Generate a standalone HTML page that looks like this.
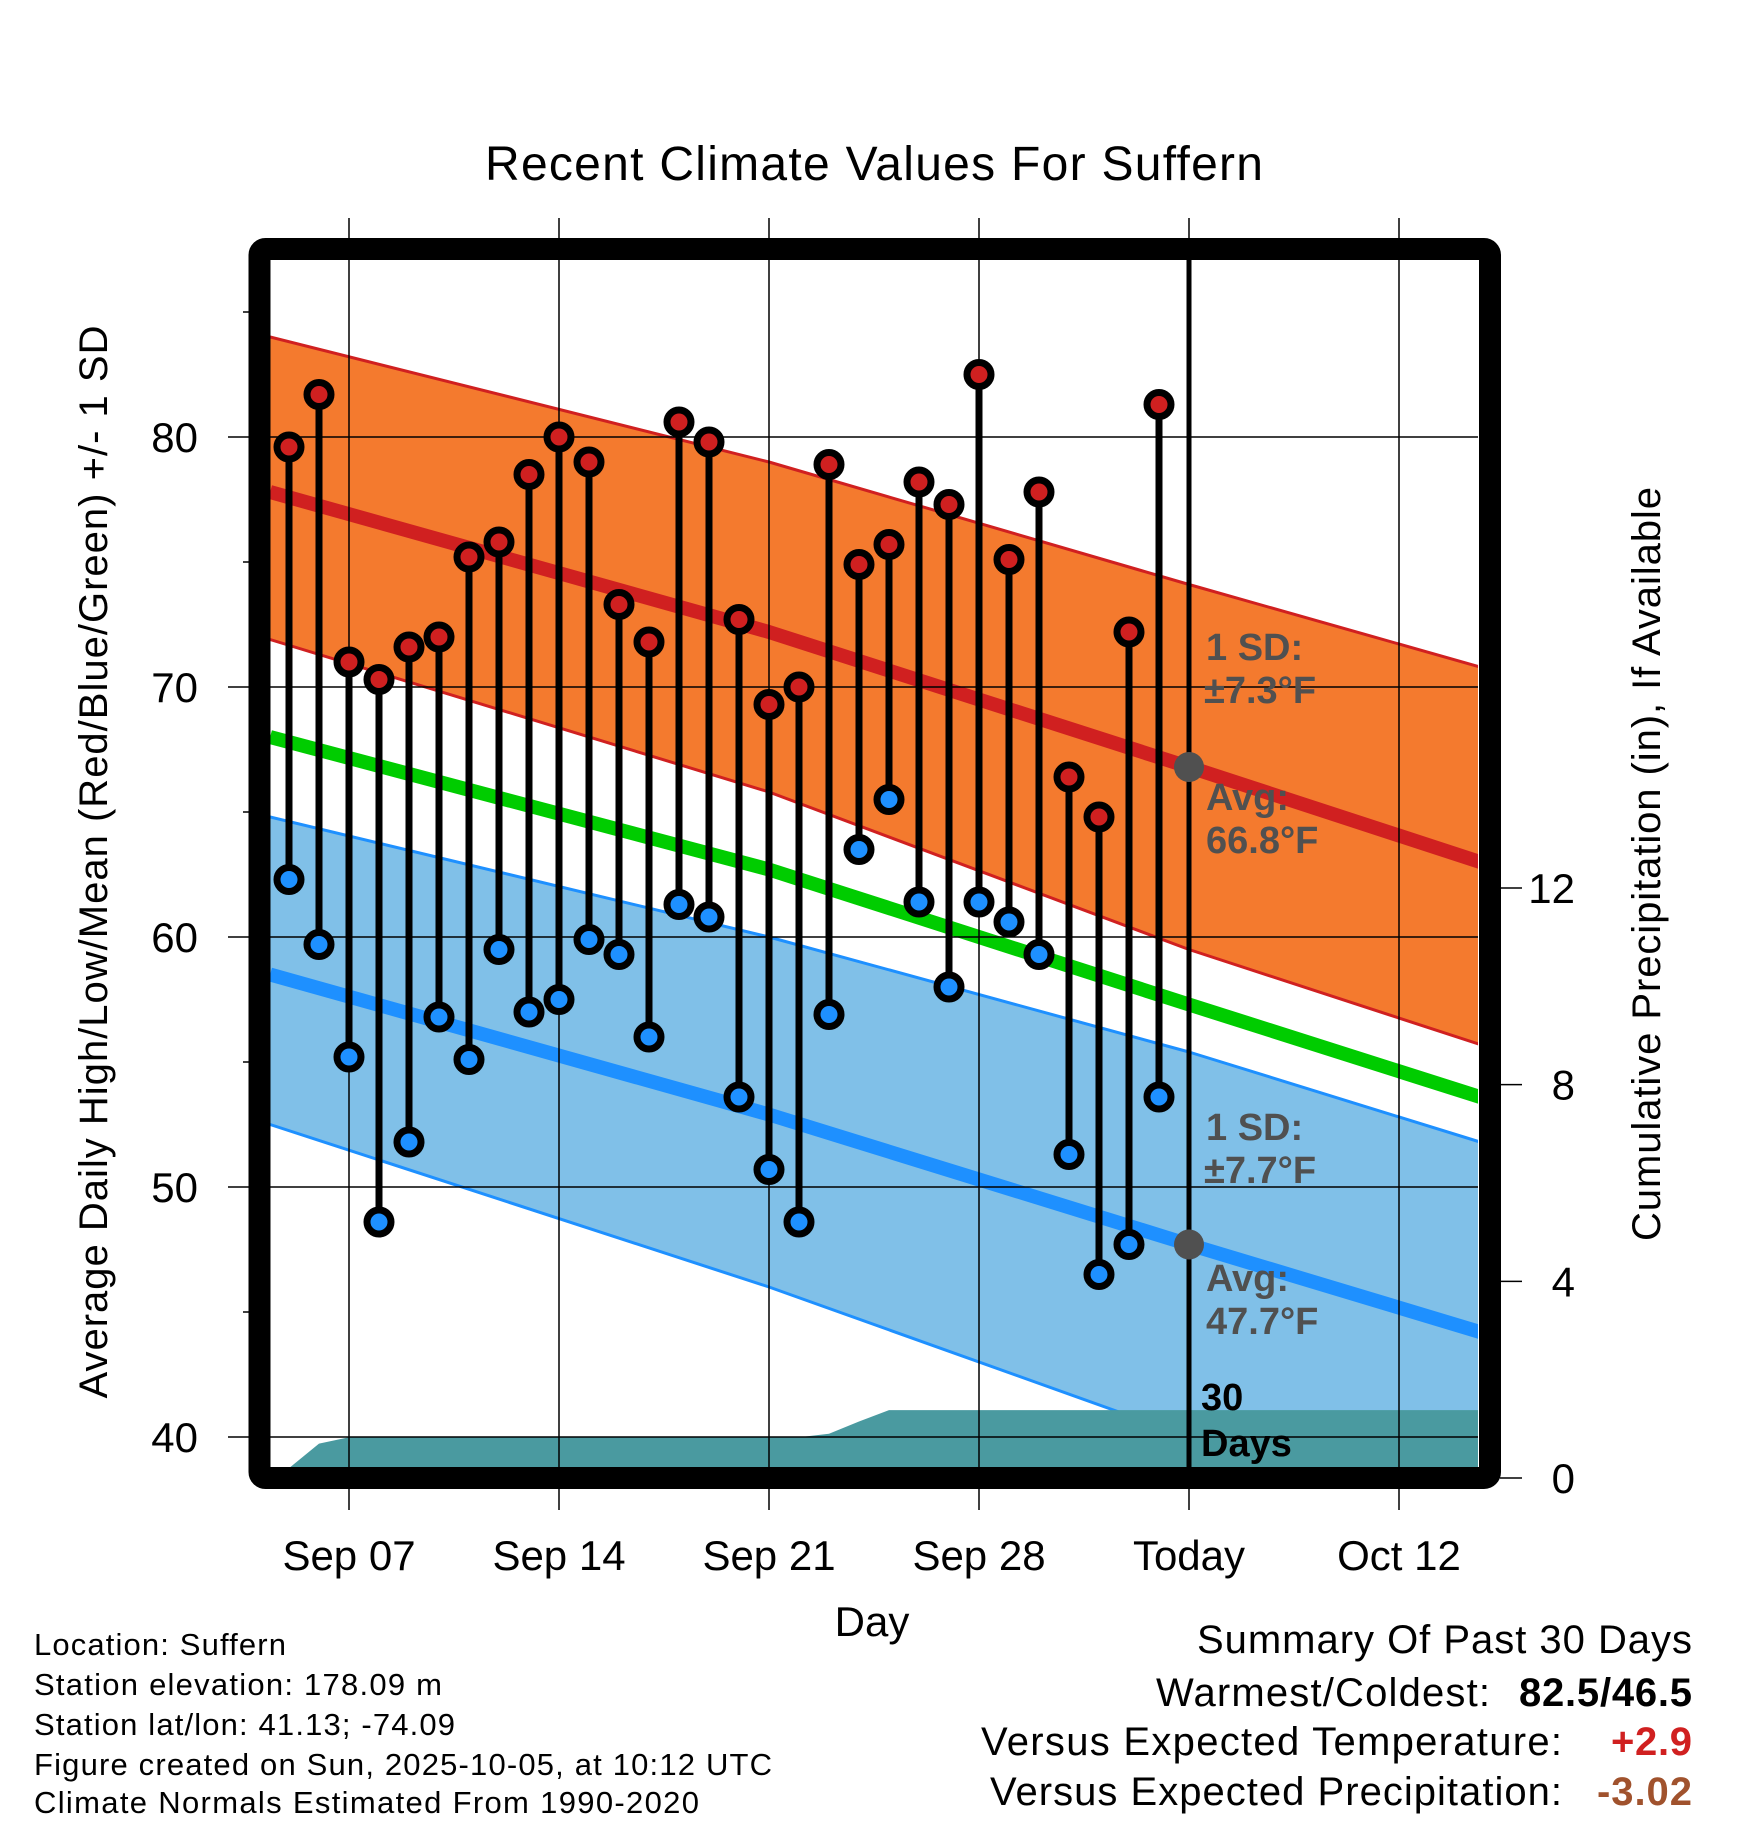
<!DOCTYPE html>
<html><head><meta charset="utf-8">
<style>
html,body{margin:0;padding:0;background:#fff;}
svg{display:block;font-family:"Liberation Sans",Arial,sans-serif;}
</style></head>
<body>
<svg id="chart" width="1748" height="1828" viewBox="0 0 1748 1828" xmlns="http://www.w3.org/2000/svg"></svg>
<script>
// ---- data ----
const days = [5,6,7,8,9,10,11,12,13,14,15,16,17,18,19,20,21,22,23,24,25,26,27,28,29,30,31,32,33,34]; // day of Sep (31=Oct1)
const highs = [79.6,81.7,71.0,70.3,71.6,72.0,75.2,75.8,78.5,80.0,79.0,73.3,71.8,80.6,79.8,72.7,69.3,70.0,78.9,74.9,75.7,78.2,77.3,82.5,75.1,77.8,66.4,64.8,72.2,81.3];
const lows = [62.3,59.7,55.2,48.6,51.8,56.8,55.1,59.5,57.0,57.5,59.9,59.3,56.0,61.3,60.8,53.6,50.7,48.6,56.9,63.5,65.5,61.4,58.0,61.4,60.6,59.3,51.3,46.5,47.7,53.6];
const precipDays = [5,6,7,22,23,24,25,34,35,45];
const precipVals = [0.2,0.7,0.83,0.83,0.9,1.15,1.38,1.38,1.38,1.38];
const normDays = [4.37,21,35,44.7];
const normHigh = [77.8,72.2,66.8,63.0];
const normHighUp = [84.0,79.0,74.1,70.8];
const normHighLo = [71.9,65.8,59.5,55.7];
const normMean = [68.0,62.7,57.3,53.6];
const normLow = [58.5,52.9,47.7,44.2];
const normLowUp = [64.8,60.0,55.4,51.8];
const normLowLo = [52.5,46.0,40.0,36.1];
const xTickDays = [7,14,21,28,35,42];
const xTickLabels = ["Sep 07","Sep 14","Sep 21","Sep 28","Today","Oct 12"];
const yTicks = [40,50,60,70,80];
const yMinor = [45,55,65,75,85];
const pTicks = [0,4,8,12];

// ---- axes ----
const X0=270,X1=1478,Y0=260,Y1=1468;
const xs = d => 349 + (d-7)*30;
const ys = t => 437 + (80-t)*25;
const ps = p => 1478 - p*49.17;
const NS="http://www.w3.org/2000/svg";
const svg=document.getElementById('chart');
function el(tag,attrs,parent){const e=document.createElementNS(NS,tag);for(const k in attrs)e.setAttribute(k,attrs[k]);(parent||svg).appendChild(e);return e;}
function txt(s,attrs,parent){const e=el('text',attrs,parent);e.textContent=s;return e;}

const defs=el('defs',{});
const cp=el('clipPath',{id:'plotclip'},defs);
el('rect',{x:X0,y:Y0,width:X1-X0,height:Y1-Y0},cp);
const plot=el('g',{'clip-path':'url(#plotclip)'});



function linePts(arr){return normDays.map((d,i)=>xs(d)+','+ys(arr[i])).join(' ');}
function bandPts(up,lo){const a=normDays.map((d,i)=>xs(d)+','+ys(up[i]));const b=normDays.slice().reverse().map((d,j)=>xs(d)+','+ys(lo[normDays.length-1-j]));return a.concat(b).join(' ');}

let e;
e=el('polygon',{points:bandPts(normHighUp,normHighLo),fill:'#f47a2e'},plot);


e=el('polygon',{points:bandPts(normLowUp,normLowLo),fill:'#80c0e8'},plot);


[[normHighUp,'#d02020',3],[normHighLo,'#d02020',3],[normLowUp,'#1e90ff',3],[normLowLo,'#1e90ff',3]].forEach(([a,c,w])=>{
  const l=el('polyline',{points:linePts(a),fill:'none',stroke:c,'stroke-width':w,'stroke-linejoin':'round'},plot);
  
  
});
e=el('polyline',{points:linePts(normHigh),fill:'none',stroke:'#d02020','stroke-width':14,'stroke-linejoin':'round'},plot);


e=el('polyline',{points:linePts(normMean),fill:'none',stroke:'#00cc00','stroke-width':14,'stroke-linejoin':'round'},plot);


e=el('polyline',{points:linePts(normLow),fill:'none',stroke:'#1e90ff','stroke-width':14,'stroke-linejoin':'round'},plot);



// precip fill
let pp=precipDays.map((d,i)=>xs(d)+','+ps(precipVals[i]));
pp.push(xs(precipDays[precipDays.length-1])+','+(Y1+5));
pp.push(xs(precipDays[0])+','+(Y1+5));
e=el('polygon',{points:pp.join(' '),fill:'#4a9aa0'},plot);



// grid
yTicks.forEach(t=>{
  const g=el('line',{x1:228,x2:X1,y1:ys(t),y2:ys(t),stroke:'#000','stroke-width':1.5});
  
  
  const lb=txt(String(t),{x:198,y:ys(t)+15,'font-size':42,'text-anchor':'end'});
  
  
});
yMinor.forEach(t=>{
  const g=el('line',{x1:243,x2:252,y1:ys(t),y2:ys(t),stroke:'#000','stroke-width':1.5});
  
  
});
xTickDays.forEach((d,i)=>{
  const today=xTickLabels[i]==='Today';
  const g=el('line',{x1:xs(d),x2:xs(d),y1:218,y2:1510,stroke:'#000','stroke-width':1.5});
  
  
  if(today){
    const t=el('line',{x1:xs(d),x2:xs(d),y1:Y0,y2:Y1,stroke:'#000','stroke-width':5});
    
    
  }
  const lb=txt(xTickLabels[i],{x:xs(d),y:1570,'font-size':42,'text-anchor':'middle'});
  
  
});
pTicks.forEach(p=>{
  const g=el('line',{x1:1500,x2:1522,y1:ps(p),y2:ps(p),stroke:'#000','stroke-width':1.5});
  
  
  const lb=txt(String(p),{x:1575,y:ps(p)+15,'font-size':42,'text-anchor':'end'});
  
  
});

// stems and markers
days.forEach((d,i)=>{
  const g=el('g',{});
  
  
  el('line',{x1:xs(d),x2:xs(d),y1:ys(highs[i]),y2:ys(lows[i]),stroke:'#000','stroke-width':7},g);
  const h=el('circle',{cx:xs(d),cy:ys(highs[i]),r:12,fill:'#d02020',stroke:'#000','stroke-width':7},g);
  
  
  const l=el('circle',{cx:xs(d),cy:ys(lows[i]),r:12,fill:'#1e90ff',stroke:'#000','stroke-width':7},g);
  
  
});
e=el('circle',{cx:xs(35),cy:ys(normHigh[2]),r:15,fill:'#505050'});


e=el('circle',{cx:xs(35),cy:ys(normLow[2]),r:15,fill:'#505050'});



// frame
e=el('rect',{x:259.5,y:249,width:1230.5,height:1229,fill:'none',stroke:'#000','stroke-width':22,rx:6});


</script>
<svg style="position:absolute;left:0;top:0" width="1748" height="1828" font-family="Liberation Sans, Arial, sans-serif">
<g fill="#505050" font-weight="bold" font-size="38">
<text x="1206" y="660">1 SD:</text>
<text x="1204" y="703">±7.3°F</text>
<text x="1206" y="810">Avg:</text>
<text x="1206" y="853">66.8°F</text>
<text x="1206" y="1140">1 SD:</text>
<text x="1204" y="1183">±7.7°F</text>
<text x="1206" y="1291">Avg:</text>
<text x="1206" y="1334">47.7°F</text>
</g>
<g fill="#000" font-weight="bold" font-size="38">
<text x="1201" y="1410">30</text>
<text x="1201" y="1456">Days</text>
</g>
<text x="874" y="180" font-size="48" text-anchor="middle" textLength="778">Recent Climate Values For Suffern</text>
<text x="872" y="1636" font-size="42" text-anchor="middle">Day</text>
<text transform="translate(107,862) rotate(-90)" font-size="40" text-anchor="middle" textLength="1073">Average Daily High/Low/Mean (Red/Blue/Green) +/- 1 SD</text>
<text transform="translate(1660,864) rotate(-90)" font-size="40" text-anchor="middle" textLength="754">Cumulative Precipitation (in), If Available</text>
<g font-size="31">
<text x="34" y="1655" textLength="252">Location: Suffern</text>
<text x="34" y="1695" textLength="408">Station elevation: 178.09 m</text>
<text x="34" y="1735" textLength="421">Station lat/lon: 41.13; -74.09</text>
<text x="34" y="1775" textLength="738">Figure created on Sun, 2025-10-05, at 10:12 UTC</text>
<text x="34" y="1813" textLength="665">Climate Normals Estimated From 1990-2020</text>
</g>
<g font-size="40">
<text x="1692" y="1653" text-anchor="end" textLength="495">Summary Of Past 30 Days</text>
<text x="1490" y="1706" text-anchor="end" textLength="334">Warmest/Coldest:</text>
<text x="1692" y="1706" text-anchor="end" font-weight="bold" textLength="173">82.5/46.5</text>
<text x="1562" y="1755" text-anchor="end" textLength="581">Versus Expected Temperature:</text>
<text x="1692" y="1755" text-anchor="end" font-weight="bold" fill="#d02020" textLength="81">+2.9</text>
<text x="1562" y="1805" text-anchor="end" textLength="572">Versus Expected Precipitation:</text>
<text x="1692" y="1805" text-anchor="end" font-weight="bold" fill="#a0522d" textLength="95">-3.02</text>
</g>
</svg>
</body></html>
